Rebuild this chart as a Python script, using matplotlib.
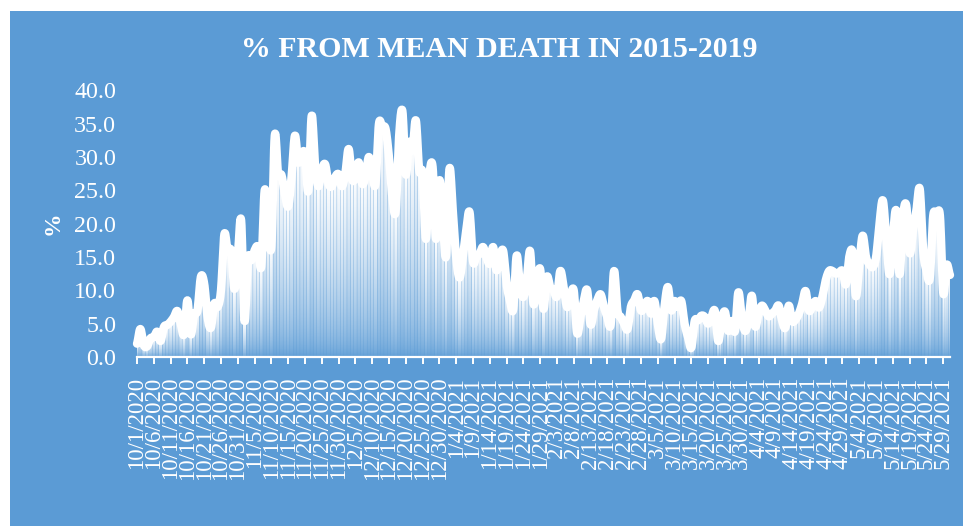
import datetime as dt
import numpy as np
import matplotlib
matplotlib.use("Agg")
import matplotlib.pyplot as plt
from matplotlib.path import Path
from matplotlib.patches import PathPatch, Rectangle

plt.rcParams['font.family'] = ['Liberation Serif', 'DejaVu Serif']

# ---------------- data ----------------
start_date = dt.date(2020, 10, 1)
pct_from_mean = [
    2.0, 4.2, 1.8, 1.6, 2.8, 3.0, 3.8, 2.4, 4.5, 4.8,
    5.3, 6.0, 6.9, 5.0, 3.4, 8.5, 3.4, 6.4, 7.0, 12.0,
    11.0, 6.0, 4.4, 8.0, 7.5, 10.0, 18.4, 15.9, 15.9, 10.2,
    15.0, 20.5, 5.4, 14.7, 14.5, 16.0, 16.5, 13.6, 25.0, 20.0,
    16.6, 33.2, 27.5, 27.3, 24.5, 22.6, 27.0, 33.2, 29.2, 30.5,
    30.4, 24.9, 36.2, 28.7, 25.6, 28.0, 28.9, 26.0, 25.6, 27.0,
    27.4, 25.6, 27.5, 31.2, 26.7, 27.0, 29.2, 26.0, 27.0, 30.0,
    27.5, 26.0, 34.9, 34.5, 34.2, 30.0, 24.0, 21.9, 33.0, 36.9,
    27.4, 32.2, 31.0, 35.5, 28.0, 27.5, 17.7, 27.0, 28.5, 17.7,
    26.5, 21.0, 15.1, 28.2, 22.0, 15.0, 11.9, 15.0, 19.0, 21.7,
    14.4, 15.0, 15.5, 16.5, 15.0, 14.0, 16.5, 13.0, 15.0, 15.9,
    11.0, 8.5, 7.2, 15.2, 10.6, 9.0, 11.5, 15.9, 8.0, 11.0,
    13.2, 7.2, 12.0, 10.5, 10.0, 9.1, 12.9, 10.5, 7.5, 9.0,
    10.0, 3.6, 6.0, 8.5, 10.0, 4.9, 7.0, 8.5, 9.4, 7.5,
    6.0, 4.9, 12.9, 7.0, 6.0, 5.0, 4.2, 7.5, 8.5, 9.4,
    7.0, 7.5, 8.4, 6.5, 8.4, 5.0, 2.7, 7.5, 10.5, 7.0,
    8.4, 7.5, 8.4, 5.0, 3.0, 1.4, 5.4, 5.5, 6.2, 6.0,
    5.0, 6.0, 6.9, 2.4, 5.5, 6.8, 3.9, 5.4, 3.9, 9.7,
    6.0, 3.9, 5.5, 9.2, 4.6, 6.5, 7.7, 7.0, 6.1, 6.5,
    7.0, 7.7, 5.5, 4.4, 7.7, 5.4, 5.6, 6.5, 8.0, 9.9,
    7.0, 7.5, 8.4, 7.4, 9.0, 11.5, 12.9, 12.9, 12.5, 12.7,
    12.9, 10.9, 15.0, 15.7, 9.1, 14.0, 18.2, 15.0, 13.9, 13.5,
    15.0, 20.0, 23.5, 18.0, 12.4, 18.0, 21.9, 12.4, 21.0, 22.7,
    15.6, 19.0, 22.0, 25.2, 16.0, 13.0, 11.9, 21.2, 21.0, 21.2,
    9.6, 13.8, 12.3,
]
n_days = len(pct_from_mean)
dates = [start_date + dt.timedelta(days=i) for i in range(n_days)]
date_labels = [f"{d.month}/{d.day}/{d.year}" for d in dates]
label_every = 5
y_ticks = [0, 5, 10, 15, 20, 25, 30, 35, 40]
title_text = "% FROM MEAN DEATH IN 2015-2019"
y_label_text = "%"

BLUE = "#5B9BD5"
W, H = 963, 526

fig = plt.figure(figsize=(W / 100, H / 100), dpi=100, facecolor="white")
fig.patches.append(Rectangle((10 / W, 0), (W - 10) / W, (H - 11) / H,
                             transform=fig.transFigure, facecolor=BLUE,
                             edgecolor="none", zorder=-10))

ax = fig.add_axes([137 / W, (H - 357) / H, (950 - 137) / W, (357 - 90.3) / H])
ax.set_facecolor("none")
ax.set_zorder(2)

v = np.array(pct_from_mean, dtype=float)
xi = np.arange(n_days)

# gradient-filled columns (white at top, fading to blue at bottom)
NY = 600
ys = np.linspace(0, 40, NY)
frac = ys[:, None] / np.maximum(v[None, :], 1e-6)
alpha = np.clip(frac, 0, 1) ** 0.55
alpha[ys[:, None] > v[None, :]] = 0
rgba = np.ones((NY, n_days, 4))
rgba[..., 3] = alpha
im = ax.imshow(rgba, extent=(-0.5, n_days - 0.5, 0, 40), origin="lower",
               aspect="auto", interpolation="nearest", zorder=1)
bw = 0.9
verts, codes = [], []
for i, val in enumerate(v):
    x0, x1 = i - bw / 2, i + bw / 2
    verts += [(x0, 0), (x1, 0), (x1, val), (x0, val), (x0, 0)]
    codes += [Path.MOVETO, Path.LINETO, Path.LINETO, Path.LINETO, Path.CLOSEPOLY]
clip = PathPatch(Path(verts, codes), transform=ax.transData,
                 facecolor="none", edgecolor="none")
ax.add_patch(clip)
im.set_clip_path(clip)

# smoothed line (cardinal / Catmull-Rom rendering of the daily points)
sx, sy = [], []
t = np.linspace(0, 1, 10, endpoint=False)
h00 = 2 * t**3 - 3 * t**2 + 1
h10 = t**3 - 2 * t**2 + t
h01 = -2 * t**3 + 3 * t**2
h11 = t**3 - t**2
for i in range(n_days - 1):
    p_prev = v[i - 1] if i > 0 else v[i]
    p_next = v[i + 2] if i + 2 < n_days else v[i + 1]
    m1 = (v[i + 1] - p_prev) / 2
    m2 = (p_next - v[i]) / 2
    sx.extend(i + t)
    sy.extend(h00 * v[i] + h10 * m1 + h01 * v[i + 1] + h11 * m2)
sx.append(n_days - 1)
sy.append(v[-1])
ax.plot(sx, sy, color="white", lw=6, solid_capstyle="round",
        solid_joinstyle="round", zorder=3, clip_on=False)

ax.set_xlim(0, n_days - 1)
ax.set_ylim(0, 40)

ax.set_xticks(xi[::label_every])
ax.set_xticklabels(date_labels[::label_every], rotation=90, fontsize=16.5,
                   color="white")
ax.tick_params(axis="x", direction="out", length=5.3, width=1.4,
               color="white", pad=9)
ax.set_yticks(y_ticks)
ax.set_yticklabels([f"{t_:.1f}" for t_ in y_ticks], fontsize=17.3,
                   color="white")
ax.tick_params(axis="y", length=0, pad=15)

for s in ["top", "right", "left"]:
    ax.spines[s].set_visible(False)
ax.spines["bottom"].set_color("white")
ax.spines["bottom"].set_linewidth(1.6)
ax.spines["bottom"].set_zorder(4)

ax.set_ylabel(y_label_text, fontsize=17, fontweight="bold", color="white",
              va="center")
ax.yaxis.set_label_coords((53 - 137) / (950 - 137), 0.5)

fig.text(499 / W, 1 - 57 / H, title_text, ha="center", va="baseline",
         fontsize=21.5, fontweight="bold", color="white")

fig.savefig("out.png", dpi=100, facecolor=fig.get_facecolor())
